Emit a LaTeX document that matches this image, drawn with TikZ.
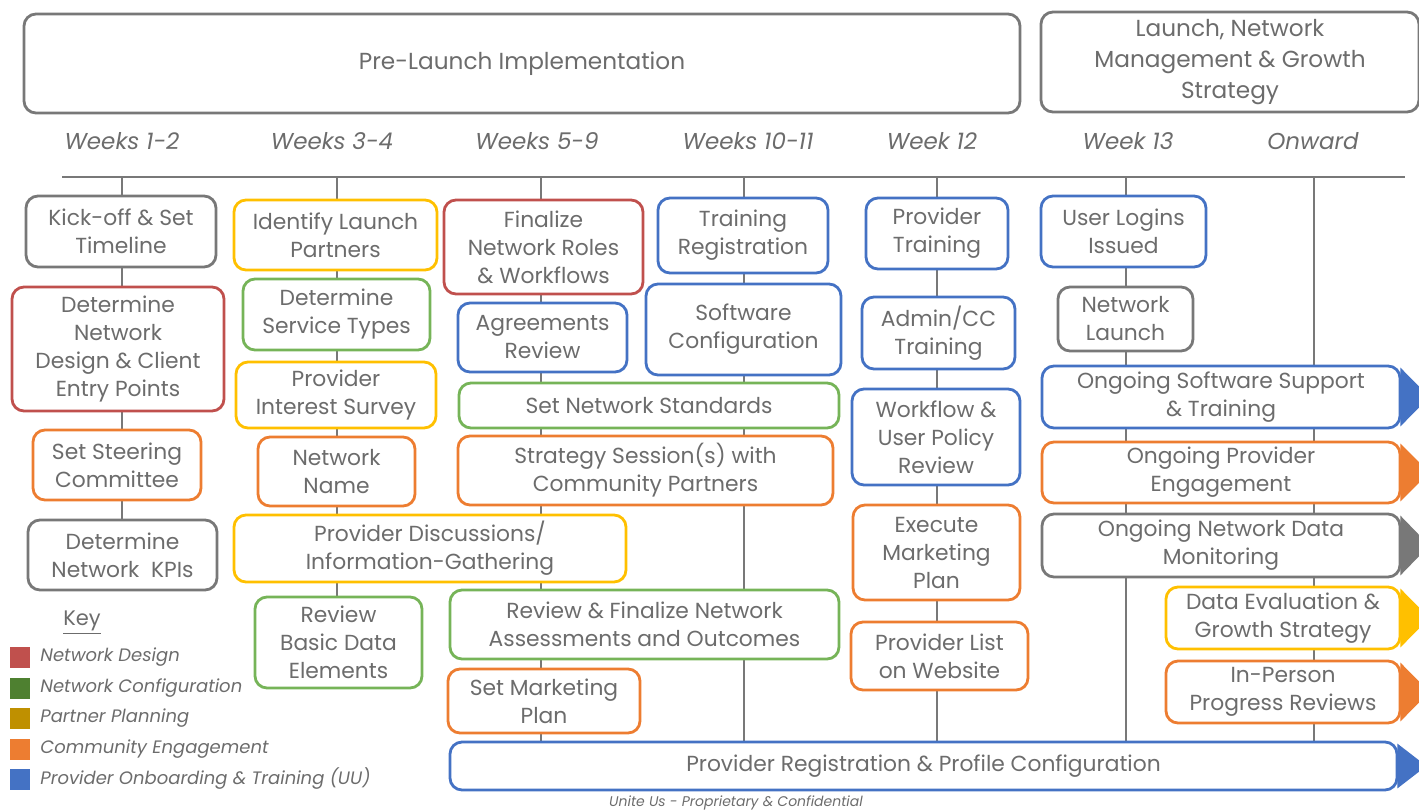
\documentclass[tikz,border=0pt]{standalone}
\usepackage{fontspec}
\setmainfont{Poppins}
\usetikzlibrary{calc}
\definecolor{cred}{RGB}{192,80,77}
\definecolor{cgreen}{RGB}{118,180,88}
\definecolor{cgreenk}{RGB}{78,128,48}
\definecolor{cyel}{RGB}{255,192,0}
\definecolor{cyelk}{RGB}{191,144,0}
\definecolor{corange}{RGB}{237,125,49}
\definecolor{cblue}{RGB}{68,114,196}
\definecolor{cgray}{RGB}{120,120,120}
\definecolor{ctext}{RGB}{108,108,108}
\newcommand\bx[7]{%
\pgfmathsetmacro\bxcx{(#3+#5)/2}%
\pgfmathsetmacro\bxcy{(#4+#6)/2}%
\pgfmathsetmacro\bxw{(#5-#3)/2}%
\pgfmathsetmacro\bxh{(#6-#4)/2}%
\node[bx,draw=#2,minimum width=\bxw pt,minimum height=\bxh pt] (#1) at (\bxcx,\bxcy) {#7};}
\newcommand\arr[7]{%
\bx{#1}{#2}{#3}{#4}{#5}{#6}{#7}%
\fill[#2] ($(#1.north east)+(-1,3)$) -- ($(#1.east)+(28,0)$) -- ($(#1.south east)+(-1,-3)$) -- cycle;}
\begin{document}
\begin{tikzpicture}[x=0.5pt,y=-0.5pt,
  bx/.style={draw, line width=1.4pt, rounded corners=6pt, fill=white, align=center, inner sep=0pt, text=ctext, font=\fontsize{10.9}{14}\selectfont},
  hdr/.style={bx, draw=cgray, font=\fontsize{11.6}{15.5}\selectfont},
  tline/.style={draw=cgray, line width=1.4pt},
  wk/.style={text=ctext, font=\fontsize{11.5}{14}\selectfont\itshape, inner sep=0pt},
  keysq/.style={minimum width=10pt, minimum height=10.5pt, inner sep=0pt},
  keytx/.style={text=ctext, font=\fontsize{9}{12}\selectfont\itshape, anchor=west, inner sep=0pt}]
\path[use as bounding box] (0,0) rectangle (1419,811);
\clip (0,0) rectangle (1419,811);
% headers
\node[hdr,minimum width=498pt,minimum height=49.5pt] (pre) at (522,63.5) {Pre-Launch Implementation};
\node[hdr,minimum width=189pt,minimum height=50pt] (launchhdr) at (1230,62) {Launch, Network\\Management \& Growth\\Strategy};
% week labels
\node[wk] (w1) at (122,141) {Weeks 1-2};
\node[wk] (w2) at (332,141) {Weeks 3-4};
\node[wk] (w3) at (537,141) {Weeks 5-9};
\node[wk] (w4) at (748,141) {Weeks 10-11};
\node[wk] (w5) at (932,141) {Week 12};
\node[wk] (w6) at (1128,141) {Week 13};
\node[wk] (w7) at (1313,141) {Onward};
% timeline
\coordinate (tl) at (62,177);
\coordinate (tr) at (1405,177);
\draw[tline] (tl) -- (tr);
\coordinate (c1) at (122,177); \coordinate (c1b) at (122,590);
\coordinate (c2) at (337,177); \coordinate (c2b) at (337,688);
\coordinate (c3) at (541,177); \coordinate (c3b) at (541,744);
\coordinate (c4) at (744,177); \coordinate (c4b) at (744,744);
\coordinate (c5) at (937,177); \coordinate (c5b) at (937,744);
\coordinate (c6) at (1126,177); \coordinate (c6b) at (1126,744);
\coordinate (c7) at (1314,177); \coordinate (c7b) at (1314,744);
\foreach \i in {1,...,7} {\draw[tline] (c\i) -- (c\i b);}
% column 1
\bx{kick}{cgray}{26}{196}{216}{267}{Kick-off \& Set\\Timeline}
\bx{design}{cred}{12}{287}{224}{411}{Determine\\Network\\Design \& Client\\Entry Points}
\bx{steer}{corange}{33}{430}{201}{500}{Set Steering\\Committee}
\bx{kpi}{cgray}{28}{520}{217}{590}{Determine\\Network\ \ KPIs}
% column 2
\bx{identify}{cyel}{234}{200}{437}{270}{Identify Launch\\Partners}
\bx{servtypes}{cgreen}{243}{279}{430}{350}{Determine\\Service Types}
\bx{survey}{cyel}{236}{362}{436}{428}{Provider\\Interest Survey}
\bx{netname}{corange}{258}{437}{415}{506}{Network\\Name}
\bx{discuss}{cyel}{234}{515}{626}{582}{Provider Discussions/\\Information-Gathering}
\bx{review}{cgreen}{255}{597}{422}{688}{Review\\Basic Data\\Elements}
% column 3
\bx{finalize}{cred}{444}{200}{643}{294}{Finalize\\Network Roles\\\& Workflows}
\bx{agree}{cblue}{458}{303}{627}{372}{Agreements\\Review}
\bx{standards}{cgreen}{459}{383}{839}{428}{Set Network Standards}
\bx{strategy}{corange}{458}{436}{833}{505}{Strategy Session(s) with\\Community Partners}
\bx{assess}{cgreen}{450}{590}{839}{659}{Review \& Finalize Network\\Assessments and Outcomes}
\bx{mktplan}{corange}{448}{669}{640}{733}{Set Marketing\\Plan}
% column 4
\bx{trainreg}{cblue}{658}{198}{828}{273}{Training\\Registration}
\bx{softconf}{cblue}{646}{284}{841}{375}{Software\\Configuration}
% column 5
\bx{provtrain}{cblue}{866}{198}{1008}{269}{Provider\\Training}
\bx{admin}{cblue}{862}{297}{1015}{369}{Admin/CC\\Training}
\bx{workflow}{cblue}{852}{389}{1020}{485}{Workflow \&\\User Policy\\Review}
\bx{execmkt}{corange}{853}{505}{1020}{600}{Execute\\Marketing\\Plan}
\bx{provlist}{corange}{851}{622}{1028}{690}{Provider List\\on Website}
% column 6
\bx{logins}{cblue}{1041}{196}{1206}{267}{User Logins\\Issued}
\bx{launch}{cgray}{1058}{287}{1193}{351}{Network\\Launch}
% ongoing arrows
\arr{ongsoft}{cblue}{1042}{366}{1400}{428}{Ongoing Software Support\\\& Training}
\arr{ongprov}{corange}{1042}{442}{1400}{503}{Ongoing Provider\\Engagement}
\arr{ongdata}{cgray}{1042}{514}{1400}{577}{Ongoing Network Data\\Monitoring}
\arr{dataeval}{cyel}{1166}{587}{1400}{649}{Data Evaluation \&\\Growth Strategy}
\arr{inperson}{corange}{1166}{661}{1400}{723}{In-Person\\Progress Reviews}
\arr{provreg}{cblue}{450}{742}{1397}{790}{Provider Registration \& Profile Configuration}
% key
\node[text=ctext, font=\fontsize{10.5}{13}\selectfont, inner sep=0pt] (key) at (82,623) {\underline{Key}};
\node[keysq, fill=cred] (k1) at (20,657) {};
\node[keysq, fill=cgreenk] (k2) at (20,688) {};
\node[keysq, fill=cyelk] (k3) at (20,718) {};
\node[keysq, fill=corange] (k4) at (20,749) {};
\node[keysq, fill=cblue] (k5) at (20,779) {};
\node[keytx] (kt1) at (40,657) {Network Design};
\node[keytx] (kt2) at (40,688) {Network Configuration};
\node[keytx] (kt3) at (40,718) {Partner Planning};
\node[keytx] (kt4) at (40,749) {Community Engagement};
\node[keytx] (kt5) at (40,779) {Provider Onboarding \& Training (UU)};
% footer
\node[text=ctext, font=\fontsize{7}{8}\selectfont\itshape, inner sep=0pt] (foot) at (736,803) {Unite Us - Proprietary \& Confidential};
\end{tikzpicture}
\end{document}
